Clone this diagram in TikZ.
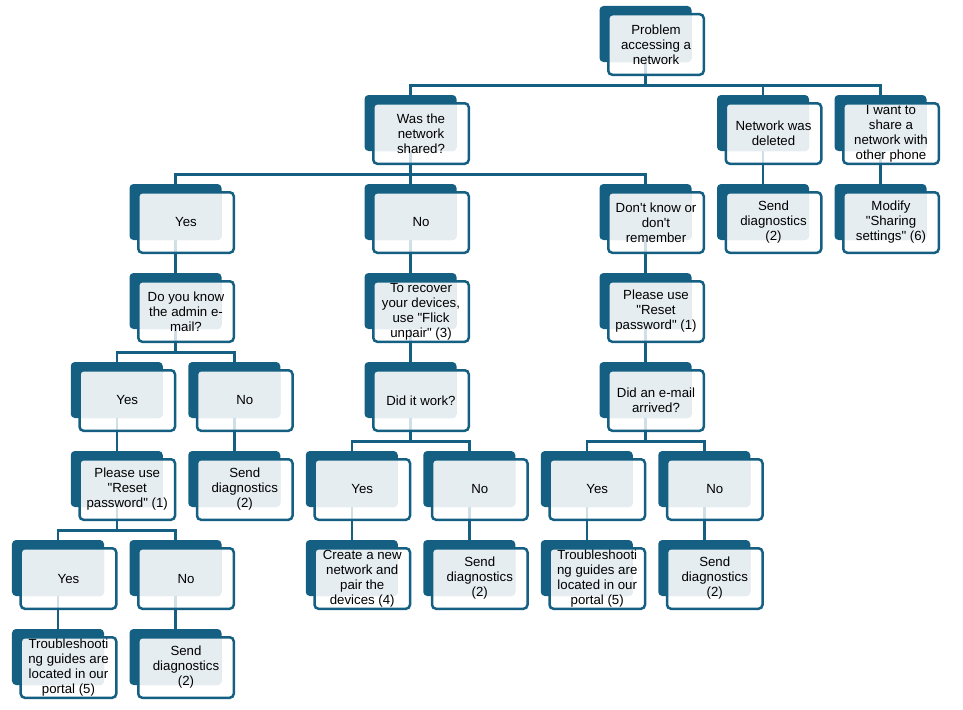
\documentclass[tikz,border=0pt]{standalone}
\usepackage{fontspec}
\setmainfont{Liberation Sans}
\usetikzlibrary{backgrounds}
\definecolor{darkteal}{HTML}{156082}
\definecolor{lightfill}{HTML}{E6EDF1}
\tikzstyle{card} = [rectangle, rounded corners=4bp, draw=darkteal, line width=2.5bp, fill=white, fill opacity=0.8, text opacity=1, minimum width=95.5bp, minimum height=60.5bp, inner sep=0pt, align=center, font=\fontsize{13.3}{15}\selectfont,
  path picture={\fill[lightfill, fill opacity=1] ([shift={(-49bp,31.5bp)}]path picture bounding box.center) rectangle ([shift={(35.5bp,-17.5bp)}]path picture bounding box.center);}]
\tikzstyle{back} = [fill=darkteal, rounded corners=4bp]
\tikzstyle{link} = [draw=darkteal, line width=2.5bp]
\newcommand{\q}{\textquotedbl}
\newcommand{\card}[3]{% name, position, text
  \fill[back] ([shift={(-56.5bp,38.5bp)}]#2) rectangle ++(92bp,-56bp);
  \node[card] (#1) at (#2) {#3};}
\newcommand{\link}[2]{%
  \draw[link] ([shift={(-10.5bp,-17.5bp)}]#1.center) -- ++(0,-23.5bp) -| ([shift={(-10.5bp,38.5bp)}]#2.center);}

\begin{document}
\begin{tikzpicture}[x=58.75bp, y=89bp]
\useasboundingbox (-68.5bp,44.5bp) rectangle (894.5bp,-665.5bp);

\card{problem}{10,0}{Problem\\accessing a\\network}
\card{shared}{6,-1}{Was the\\network\\shared?}
\card{deleted}{12,-1}{Network was\\deleted}
\card{share}{14,-1}{I want to\\share a\\network with\\other phone}

\card{yes1}{2,-2}{Yes}
\card{no1}{6,-2}{No}
\card{dunno}{10,-2}{Don\textquotesingle t know or\\don\textquotesingle t\\remember}
\card{diag1}{12,-2}{Send\\diagnostics\\(2)}
\card{modify}{14,-2}{Modify\\\q Sharing\\settings\q{} (6)}

\card{admin}{2,-3}{Do you know\\the admin e-\\mail?}
\card{recover}{6,-3}{To recover\\your devices,\\use \q Flick\\unpair\q{} (3)}
\card{reset1}{10,-3}{Please use\\\q Reset\\password\q{} (1)}

\card{yes2}{1,-4}{Yes}
\card{no2}{3,-4}{No}
\card{work}{6,-4}{Did it work?}
\card{email}{10,-4}{Did an e-mail\\arrived?}

\card{reset2}{1,-5}{Please use\\\q Reset\\password\q{} (1)}
\card{diag2}{3,-5}{Send\\diagnostics\\(2)}
\card{yes3}{5,-5}{Yes}
\card{no3}{7,-5}{No}
\card{yes4}{9,-5}{Yes}
\card{no4}{11,-5}{No}

\card{yes5}{0,-6}{Yes}
\card{no5}{2,-6}{No}
\card{create}{5,-6}{Create a new\\network and\\pair the\\devices (4)}
\card{diag3}{7,-6}{Send\\diagnostics\\(2)}
\card{guide1}{9,-6}{Troubleshooti\\ng guides are\\located in our\\portal (5)}
\card{diag4}{11,-6}{Send\\diagnostics\\(2)}

\card{guide2}{0,-7}{Troubleshooti\\ng guides are\\located in our\\portal (5)}
\card{diag5}{2,-7}{Send\\diagnostics\\(2)}

% connectors
\begin{pgfonlayer}{background}
\link{problem}{shared}
\link{problem}{deleted}
\link{problem}{share}
\link{shared}{yes1}
\link{shared}{no1}
\link{shared}{dunno}
\link{deleted}{diag1}
\link{share}{modify}
\link{yes1}{admin}
\link{no1}{recover}
\link{dunno}{reset1}
\link{admin}{yes2}
\link{admin}{no2}
\link{recover}{work}
\link{reset1}{email}
\link{yes2}{reset2}
\link{no2}{diag2}
\link{work}{yes3}
\link{work}{no3}
\link{email}{yes4}
\link{email}{no4}
\link{reset2}{yes5}
\link{reset2}{no5}
\link{yes3}{create}
\link{no3}{diag3}
\link{yes4}{guide1}
\link{no4}{diag4}
\link{yes5}{guide2}
\link{no5}{diag5}
\end{pgfonlayer}
\end{tikzpicture}
\end{document}
